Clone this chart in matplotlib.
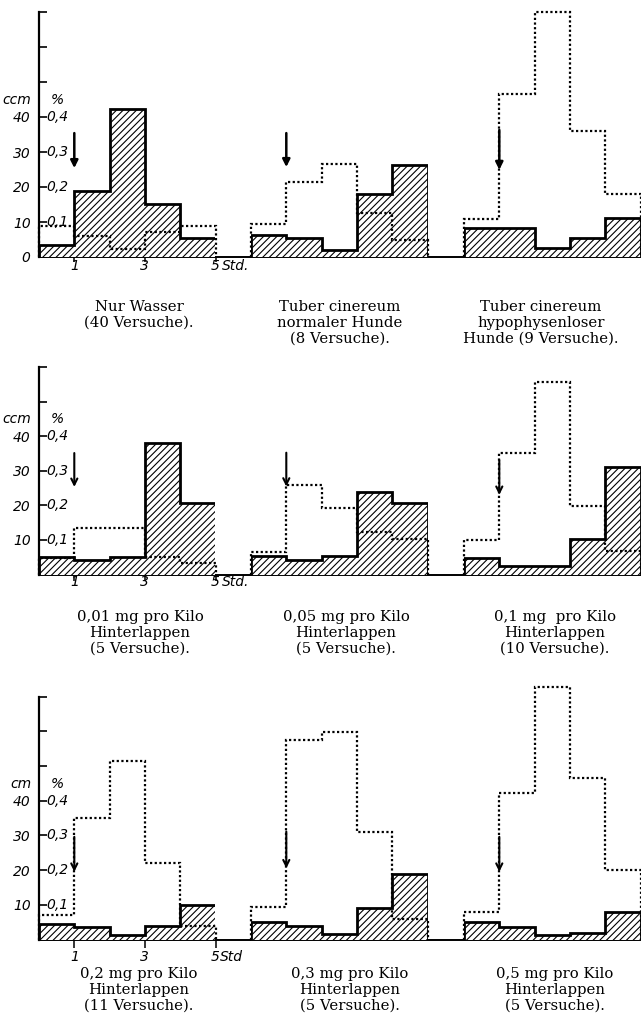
import matplotlib
matplotlib.use("Agg")
import matplotlib.pyplot as plt
from matplotlib import transforms

plt.rcParams["hatch.linewidth"] = 0.8

# hour bins after water load (0-5 h)
edges = [0, 1, 2, 3, 4, 5]
inject_hour = 1

# urine volume (ccm) and chloride concentration (%) per hour
wasser_ccm = [3.5, 18.8, 42.4, 15.2, 5.4]
wasser_pct = [0.090, 0.059, 0.023, 0.071, 0.090]

tuber_norm_ccm = [6.2, 5.5, 2.1, 18.1, 26.2]
tuber_norm_pct = [0.093, 0.214, 0.267, 0.126, 0.050]

tuber_hypo_ccm = [8.4, 8.2, 2.7, 5.3, 11.2]
tuber_hypo_pct = [0.108, 0.467, 0.701, 0.360, 0.179]

hl001_ccm = [5.1, 4.1, 5.0, 38.1, 20.7]
hl001_pct = [0.047, 0.135, 0.135, 0.050, 0.034]

hl005_ccm = [5.4, 4.3, 5.3, 23.9, 20.8]
hl005_pct = [0.066, 0.258, 0.193, 0.123, 0.104]

hl01_ccm = [4.9, 2.4, 2.4, 10.4, 31.1]
hl01_pct = [0.099, 0.350, 0.555, 0.198, 0.067]

hl02_ccm = [4.6, 3.6, 1.2, 4.0, 9.8]
hl02_pct = [0.070, 0.351, 0.514, 0.221, 0.040]

hl03_ccm = [5.1, 3.8, 1.7, 9.2, 18.8]
hl03_pct = [0.094, 0.575, 0.598, 0.311, 0.058]

hl05_ccm = [4.9, 3.7, 1.3, 2.0, 7.8]
hl05_pct = [0.080, 0.421, 0.729, 0.465, 0.201]

captions = [
    ["Nur Wasser", "(40 Versuche)."],
    ["Tuber cinereum", "normaler Hunde", "(8 Versuche)."],
    ["Tuber cinereum", "hypophysenloser", "Hunde (9 Versuche)."],
    ["0,01 mg pro Kilo", "Hinterlappen", "(5 Versuche)."],
    ["0,05 mg pro Kilo", "Hinterlappen", "(5 Versuche)."],
    ["0,1 mg  pro Kilo", "Hinterlappen", "(10 Versuche)."],
    ["0,2 mg pro Kilo", "Hinterlappen", "(11 Versuche)."],
    ["0,3 mg pro Kilo", "Hinterlappen", "(5 Versuche)."],
    ["0,5 mg pro Kilo", "Hinterlappen", "(5 Versuche)."],
]

ccm_tick_labels = ["10", "20", "30", "40"]
pct_tick_labels = ["0,1", "0,2", "0,3", "0,4"]
ccm_ticks = [10, 20, 30, 40]

panels_ccm = [wasser_ccm, tuber_norm_ccm, tuber_hypo_ccm,
              hl001_ccm, hl005_ccm, hl01_ccm,
              hl02_ccm, hl03_ccm, hl05_ccm]
panels_pct = [wasser_pct, tuber_norm_pct, tuber_hypo_pct,
              hl001_pct, hl005_pct, hl01_pct,
              hl02_pct, hl03_pct, hl05_pct]

# ---- layout (pixels / points) ----
W, H = 641, 1024
col_x0 = [39, 251, 464]
col_w = 176.5
row_base = [257, 574.5, 939.5]
row_scale = [3.50, 3.46, 3.47]        # px per ccm unit
row_axis_top = [70, 60, 70]
row_xtick_len = [3.6, 4.0, 5.8]       # points
row_xtick_pad = [-2.0, -3.5, 1.5]     # points
row_unit = ["ccm", "ccm", "cm"]
row_std = ["Std.", "Std.", "Std"]
row_std_gap = [4.5, 4.5, 3.4]
YMAX = 78

# arrow extents (ccm units) per panel
arrow_top = [35.4, 35.4, 36.3, 35.1, 35.2, 33.1, 29.6, 31.1, 29.6]
arrow_tip = [25.4, 25.7, 24.9, 25.3, 25.4, 23.0, 19.5, 20.5, 19.5]

# caption placement (pixels): first-line centre y, x centre per column
cap_y0 = [307, 617, 974]
cap_dy = [16, 16, 16]
cap_x = [[139, 340, 541], [140, 346, 555], [139, 350, 555]]

fig = plt.figure(figsize=(W / 100, H / 100), dpi=100)
fig.patch.set_facecolor("white")

axis_font = dict(family="DejaVu Sans", style="italic", size=10)

for r in range(3):
    for c in range(3):
        i = r * 3 + c
        left = col_x0[c] / W
        bottom = 1 - row_base[r] / H
        height = YMAX * row_scale[r] / H
        ax = fig.add_axes([left, bottom, col_w / W, height])
        ax.set_xlim(0, 5)
        ax.set_ylim(0, YMAX)
        ax.patch.set_alpha(0)
        for s in ["top", "right", "bottom", "left"]:
            ax.spines[s].set_visible(False)

        # urine volume: hatched step blocks
        ax.stairs(panels_ccm[i], edges, baseline=0, fill=True,
                  facecolor="white", edgecolor="black", hatch="/////",
                  linewidth=2.0, zorder=2)
        # chloride concentration: dotted steps (0.1 % = 10 ccm)
        ax.stairs([p * 100 for p in panels_pct[i]], edges, baseline=0,
                  fill=False, color="black", linestyle=(0, (1, 1.1)),
                  linewidth=1.6, zorder=3, clip_on=False)

        # time axis line
        x_end = 6.0 if c < 2 else 5.02
        ax.plot([-0.04, x_end], [0, 0], color="black", lw=1.4,
                clip_on=False, zorder=1, solid_capstyle="butt")

        # injection arrow
        style = "-|>" if r == 0 else "->"
        ax.annotate("", xy=(inject_hour, arrow_tip[i]),
                    xytext=(inject_hour, arrow_top[i]),
                    arrowprops=dict(arrowstyle=style, color="black",
                                    lw=1.8 if r == 0 else 1.5,
                                    mutation_scale=11,
                                    shrinkA=0, shrinkB=0),
                    zorder=4)

        if c == 0:
            top = row_axis_top[r]
            ax.spines["left"].set_visible(True)
            ax.spines["left"].set_bounds(0, top)
            ax.spines["left"].set_linewidth(1.6)
            upper = list(range(50, top + 1, 10))
            yt = ([0] if r == 0 else []) + ccm_ticks + upper
            yl = (["0"] if r == 0 else []) + ccm_tick_labels + [""] * len(upper)
            ax.set_yticks(yt)
            ax.set_yticklabels(yl)
            ax.tick_params(axis="y", direction="in", length=6, width=1.2,
                           pad=6, labelsize=10)
            ax.set_xticks([1, 3, 5])
            ax.set_xticklabels(["1", "3", "5"])
            ax.tick_params(axis="x", direction="out", length=row_xtick_len[r],
                           width=1.1, pad=row_xtick_pad[r], labelsize=10)
            for lab in ax.get_xticklabels() + ax.get_yticklabels():
                lab.set_fontstyle("italic")
            ax.annotate(row_std[r], xy=(5, 0), xycoords="data",
                        xytext=(row_std_gap[r],
                                -(row_xtick_len[r] + row_xtick_pad[r])),
                        textcoords="offset points", ha="left", va="top",
                        **axis_font)
            # percent scale on the right of the axis line
            tr_r = transforms.offset_copy(ax.get_yaxis_transform(), fig=fig,
                                          x=7, y=0, units="dots")
            for v, lab in zip(ccm_ticks, pct_tick_labels):
                ax.text(0, v, lab, transform=tr_r, ha="left", va="center",
                        **axis_font)
            tr_l = transforms.offset_copy(ax.get_yaxis_transform(), fig=fig,
                                          x=-8, y=0, units="dots")
            ax.text(0, 44.8, row_unit[r], transform=tr_l, ha="right",
                    va="center", **axis_font)
            tr_p = transforms.offset_copy(ax.get_yaxis_transform(), fig=fig,
                                          x=12, y=0, units="dots")
            ax.text(0, 44.8, "%", transform=tr_p, ha="left", va="center",
                    **axis_font)
        else:
            ax.set_xticks([])
            ax.set_yticks([])

        # caption under each panel
        for k, line in enumerate(captions[i]):
            fig.text(cap_x[r][c] / W, 1 - (cap_y0[r] + k * cap_dy[r]) / H,
                     line, ha="center", va="center",
                     family="DejaVu Serif", size=10.7)

fig.savefig("out.png", dpi=100, facecolor="white")
